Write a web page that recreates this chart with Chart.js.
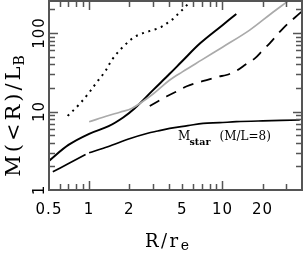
<!DOCTYPE html>
<html><head><meta charset="utf-8">
<script src="https://cdn.jsdelivr.net/npm/chart.js@4.4.0/dist/chart.umd.min.js"></script>
<style>html,body{margin:0;padding:0;background:#fff;overflow:hidden}</style>
</head><body>
<canvas id="c" width="304" height="257"></canvas>
<script>
// ---- data ----
const xTickLabels = [0.5, 1, 2, 5, 10, 20];
const yTickLabels = [1, 10, 100];
const xMinorTicks = [0.6, 0.7, 0.8, 0.9, 2, 3, 4, 5, 6, 7, 8, 9, 20, 30];
const xMajorTicks = [1, 10];
const yMinorTicks = [2, 3, 4, 5, 6, 7, 8, 9, 20, 30, 40, 50, 60, 70, 80, 90, 200];
const yMajorTicks = [10, 100];

const totalR = [0.5, 0.7, 1, 1.4, 1.8, 2.2, 3, 4, 5, 6.8, 10, 12.7];
const totalM = [2.35, 3.75, 5.2, 6.5, 8.4, 11, 18.6, 30, 44, 74, 126, 175];

const grayR = [1, 1.4, 1.7, 2.1, 3, 4, 5, 7, 10, 16, 23, 31];
const grayM = [7.4, 8.9, 9.8, 11, 16.6, 25, 32, 45.5, 66, 109, 175, 255];

const dashR = [2.85, 3.8, 4.65, 5.4, 6.6, 7.6, 9.3, 10.7, 12.7, 15, 17.5, 20, 22.6, 28.5, 37.9, 39.5];
const dashM = [11.75, 15.5, 18.4, 21, 23.5, 25.2, 27.8, 29.2, 33, 40, 47.6, 60, 74, 115, 178, 188];

const dotR = [0.69, 0.83, 0.98, 1.15, 1.31, 1.51, 1.8, 2.16, 2.43, 2.74, 3.11, 3.49, 3.87, 4.31, 4.73, 5.22, 5.75];
const dotM = [8.8, 12, 16.7, 24, 32, 47.6, 67, 88, 97, 104, 111, 120, 135, 154, 181, 212, 256];

const starR = [0.534, 0.69, 0.94, 0.97, 1.0, 1.38, 2.06, 2.75, 3.27, 4.02, 5.5, 7.16, 9.5, 12.7, 20, 38];
const starM = [1.71, 2.14, 2.83, null, 2.98, 3.56, 4.56, 5.28, 5.64, 6.1, 6.6, 7.07, 7.2, 7.42, 7.6, 7.8];

const pts = (xs, ys) => xs.map((x, i) => ({x: x, y: ys[i]}));

const frameColor = '#555';

const decor = {
  id: 'decor',
  afterDatasetsDraw(chart) {
    const ctx = chart.ctx;
    const xs = chart.scales.x, ys = chart.scales.y;
    const a = chart.chartArea;
    ctx.save();
    // frame
    ctx.strokeStyle = frameColor;
    ctx.lineWidth = 2;
    ctx.strokeRect(a.left, a.top, a.right - a.left, a.bottom - a.top);
    // ticks (inward, all sides)
    ctx.lineWidth = 1.5;
    const tickX = (v, len) => {
      const p = Math.round(xs.getPixelForValue(v)) + 0.5;
      ctx.beginPath();
      ctx.moveTo(p, a.bottom); ctx.lineTo(p, a.bottom - len);
      ctx.moveTo(p, a.top); ctx.lineTo(p, a.top + len);
      ctx.stroke();
    };
    const tickY = (v, len) => {
      const p = Math.round(ys.getPixelForValue(v)) + 0.5;
      ctx.beginPath();
      ctx.moveTo(a.left, p); ctx.lineTo(a.left + len, p);
      ctx.moveTo(a.right, p); ctx.lineTo(a.right - len, p);
      ctx.stroke();
    };
    xMinorTicks.forEach(v => tickX(v, 6));
    xMajorTicks.forEach(v => tickX(v, 9));
    yMinorTicks.forEach(v => tickY(v, 6));
    yMajorTicks.forEach(v => tickY(v, 9));

    // tick labels
    ctx.fillStyle = '#000';
    ctx.font = '15px "DejaVu Sans"';
    ctx.letterSpacing = '1px';
    ctx.textAlign = 'center';
    ctx.textBaseline = 'alphabetic';
    xTickLabels.forEach(v => {
      ctx.fillText(String(v), xs.getPixelForValue(v), 214);
    });
    yTickLabels.forEach(v => {
      ctx.save();
      ctx.translate(44, ys.getPixelForValue(v));
      ctx.rotate(-Math.PI / 2);
      ctx.fillText(String(v), 0, 0);
      ctx.restore();
    });

    // x title  R/r_e
    ctx.textAlign = 'left';
    ctx.font = '18px "DejaVu Serif"';
    ctx.letterSpacing = '2.5px';
    const mainX = 'R/r';
    const wMainX = ctx.measureText(mainX).width;
    ctx.font = '14px "DejaVu Serif"';
    ctx.letterSpacing = '0px';
    const wSubX = ctx.measureText('e').width;
    let sx = 167 - (wMainX + wSubX) / 2;
    ctx.font = '18px "DejaVu Serif"';
    ctx.letterSpacing = '2.5px';
    ctx.fillText(mainX, sx, 247);
    ctx.font = '14px "DejaVu Serif"';
    ctx.letterSpacing = '0px';
    ctx.fillText('e', sx + wMainX, 249.5);

    // y title  M(<R)/L_B
    ctx.save();
    ctx.translate(20, 115);
    ctx.rotate(-Math.PI / 2);
    ctx.font = '21px "DejaVu Serif"';
    ctx.letterSpacing = '3px';
    const mainY = 'M(<R)/L';
    const wMainY = ctx.measureText(mainY).width;
    ctx.font = '14px "DejaVu Serif"';
    ctx.letterSpacing = '0px';
    const wSubY = ctx.measureText('B').width;
    let sy = -(wMainY + wSubY) / 2;
    ctx.font = '21px "DejaVu Serif"';
    ctx.letterSpacing = '3px';
    ctx.fillText(mainY, sy, 0);
    ctx.font = '14px "DejaVu Serif"';
    ctx.letterSpacing = '0px';
    ctx.fillText('B', sy + wMainY - 2, 3.5);
    ctx.restore();

    // annotation  M_star (M/L=8)
    ctx.font = '12px "DejaVu Serif"';
    ctx.letterSpacing = '0px';
    ctx.fillText('M', 178, 140);
    ctx.font = 'bold 9.5px "DejaVu Serif"';
    ctx.fillText('star', 189.5, 144.5);
    ctx.font = '12px "DejaVu Serif"';
    ctx.fillText('(M/L=8)', 219.5, 140);
    ctx.restore();
  }
};

new Chart(document.getElementById('c'), {
  type: 'line',
  data: {
    datasets: [
      {data: pts(starR, starM), borderColor: '#000', borderWidth: 1.7, spanGaps: false},
      {data: pts(grayR, grayM), borderColor: '#aaa', borderWidth: 1.7},
      {data: pts(dashR, dashM), borderColor: '#000', borderWidth: 1.8, borderDash: [11, 8]},
      {data: pts(dotR, dotM), borderColor: '#000', borderWidth: 2, borderDash: [2, 4.6]},
      {data: pts(totalR, totalM), borderColor: '#000', borderWidth: 2}
    ]
  },
  options: {
    responsive: false,
    animation: false,
    devicePixelRatio: 1,
    layout: {padding: {left: 49, right: 2, top: 1, bottom: 67}},
    elements: {
      point: {radius: 0, hoverRadius: 0},
      line: {tension: 0.35, fill: false}
    },
    plugins: {legend: {display: false}, tooltip: {enabled: false}},
    scales: {
      x: {type: 'logarithmic', min: 0.5, max: 39.5, display: false},
      y: {type: 'logarithmic', min: 1, max: 256, display: false}
    }
  },
  plugins: [decor]
});
</script>
</body></html>
